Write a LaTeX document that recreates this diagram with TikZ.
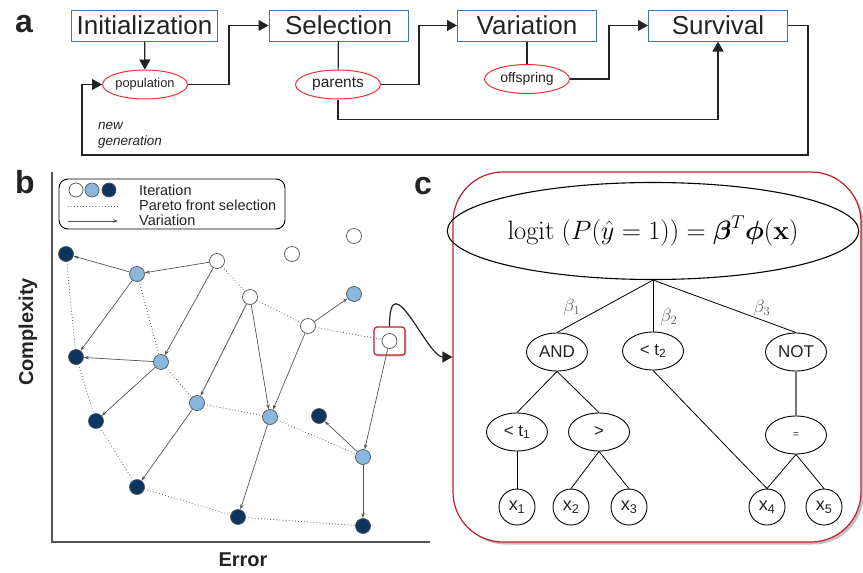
\RequirePackage{fix-cm}
\documentclass[tikz,border=0pt]{standalone}
\usepackage{amsmath}
\usepackage[no-math]{fontspec}
\setmainfont{Liberation Sans}
\usetikzlibrary{shapes.geometric,arrows.meta,shadows}

\definecolor{boxblue}{RGB}{60,118,178}
\definecolor{popred}{RGB}{232,52,52}
\definecolor{framered}{RGB}{192,32,44}
\definecolor{deepblue}{RGB}{12,54,96}
\definecolor{paleblue}{RGB}{138,183,221}
\definecolor{ink}{RGB}{35,35,35}
\definecolor{wire}{RGB}{85,85,85}

\begin{document}
\begin{tikzpicture}[x=1pt,y=-1pt,
  every node/.style={text=ink},
  stage/.style={draw=boxblue,line width=1pt,minimum width=139pt,minimum height=31pt,inner xsep=5pt,inner ysep=0pt,font=\fontsize{26}{26}\selectfont},
  pool/.style={ellipse,draw=popred,line width=1pt,minimum width=85pt,minimum height=29pt,inner sep=0pt},
  flow/.style={draw=ink,line width=1.2pt,-{Triangle[length=10pt,width=11pt]}},
  link/.style={draw=ink,line width=1.2pt},
  panel/.style={font=\bfseries\fontsize{32}{32}\selectfont},
  axis/.style={font=\bfseries\fontsize{20}{20}\selectfont},
  key/.style={anchor=west,inner sep=0pt,font=\fontsize{14.5}{15}\selectfont},
  ind/.style={circle,draw=wire,line width=0.7pt,minimum size=15pt,inner sep=0pt},
  it1/.style={ind,fill=white},
  it2/.style={ind,fill=paleblue},
  it3/.style={ind,fill=deepblue},
  vary/.style={draw=wire,line width=0.7pt,-{Stealth[length=5pt,width=3.5pt]}},
  front/.style={draw=wire,line width=1pt,line cap=round,dash pattern=on 0.1pt off 3pt},
  op/.style={ellipse,draw=black,line width=0.9pt,minimum width=61pt,minimum height=38pt,inner sep=0pt,font=\fontsize{17}{17}\selectfont},
  leaf/.style={circle,draw=black,line width=0.9pt,minimum size=36pt,inner sep=0pt,font=\fontsize{18}{18}\selectfont},
  branch/.style={draw=black,line width=0.8pt},
  wt/.style={font=\fontsize{18}{18}\selectfont,text=black!65}]
\useasboundingbox (0,0) rectangle (863,573);

\node[panel] (la) at (24,24) {a};
\node[stage] (init) at (144.5,25.5) {Initialization};
\node[stage] (sel) at (338.5,25.5) {Selection};
\node[stage] (var) at (527,25.5) {Variation};
\node[stage] (surv) at (718,25.5) {Survival};
\node[pool,font=\fontsize{12.8}{13}\selectfont] (pop) at (145,84.5) {population};
\node[pool,font=\fontsize{15.5}{16}\selectfont] (par) at (338,84.5) {parents};
\node[pool,font=\fontsize{14}{14}\selectfont] (off) at (527,79) {offspring};
\node[anchor=west,inner sep=0pt,align=left,font=\itshape\fontsize{13.5}{16}\selectfont] (newgen) at (98,135) {new\\generation};

\draw[flow] (init) -- (pop);
\draw[flow] (pop.east) -- ++(41,0) |- (sel);
\draw[link] (sel) -- (par);
\draw[flow] (par.east) -- ++(38,0) |- (var);
\draw[flow] (par.south) -- ++(0,20) -| (surv);
\draw[link] (var) -- (off);
\draw[flow] (off.east) -- ++(39,0) |- (surv);
\draw[flow] (surv.east) -- ++(20,0) |- (82,155) |- (pop);

\node[panel] (lb) at (25,182) {b};
\draw[draw=wire,line width=1.3pt] (52,172) -- (52,542) -- (430,542);
\node[axis,rotate=90] (ylab) at (28,332) {Complexity};
\node[axis] (xlab) at (243,560) {Error};

\node[draw=black,line width=0.9pt,rounded corners=9pt,minimum width=226pt,minimum height=50pt] (legend) at (172,204) {};
\node[it1,minimum size=14pt] (k1) at (76,190) {};
\node[it2,minimum size=14pt] (k2) at (92,190) {};
\node[it3,minimum size=14pt] (k3) at (109,190) {};
\draw[front] (68,206) -- (118,206);
\draw[vary] (68,221) -- (118,221);
\node[key] (t1) at (139,190) {Iteration};
\node[key] (t2) at (139,205) {Pareto front selection};
\node[key] (t3) at (139,220) {Variation};

\node[it3] (d1) at (66,254) {};
\node[it2] (l1) at (137,274) {};
\node[it1] (w1) at (217,261) {};
\node[it3] (d2) at (76,357) {};
\node[it2] (l2) at (161,362) {};
\node[it2] (l3) at (197,403) {};
\node[it3] (d3) at (96,421) {};
\node[it2] (l4) at (270,417) {};
\node[it3] (d4) at (319,416) {};
\node[it2] (l5) at (363,457) {};
\node[it3] (d5) at (137,487) {};
\node[it3] (d6) at (238,517) {};
\node[it3] (d7) at (363,526) {};
\node[it1] (w2) at (292,254) {};
\node[it1] (w3) at (354,236) {};
\node[it1] (w4) at (250,297) {};
\node[it2] (l6) at (354,294) {};
\node[it1] (w5) at (308,326) {};
\node[draw=framered,fill=white,line width=1.2pt,rounded corners=3pt,minimum width=31pt,minimum height=28pt,drop shadow={shadow xshift=1.5pt,shadow yshift=-1.5pt,fill=black!40}] (pick) at (389.5,341) {};
\node[it1] (w6) at (389.5,341) {};

\draw[front] (d1) -- (d2);
\draw[front] (d2) -- (d3);
\draw[front] (d3) -- (d5);
\draw[front] (d5) -- (d6);
\draw[front] (d6) -- (d7);
\draw[front] (l1) -- (l2);
\draw[front] (l2) -- (l3);
\draw[front] (l3) -- (l4);
\draw[front] (l4) -- (l5);
\draw[front] (w1) -- (w4);
\draw[front] (w4) -- (w5);
\draw[front] (w5) -- (w6);

\draw[vary] (w1) -- (l1);
\draw[vary] (l1) -- (d1);
\draw[vary] (l1) -- (d2);
\draw[vary] (w1) -- (l2);
\draw[vary] (l2) -- (d2);
\draw[vary] (l2) -- (d3);
\draw[vary] (w4) -- (l3);
\draw[vary] (w4) -- (l4);
\draw[vary] (l3) -- (d5);
\draw[vary] (w5) -- (l4);
\draw[vary] (w5) -- (l6);
\draw[vary] (l4) -- (d6);
\draw[vary] (w6) -- (l5);
\draw[vary] (l5) -- (d4);
\draw[vary] (l5) -- (d7);

\node[panel] (lc) at (423,186) {c};
\node[draw=framered,fill=white,line width=1.2pt,rounded corners=50pt,minimum width=408pt,minimum height=370pt,drop shadow={shadow xshift=2.5pt,shadow yshift=-2.5pt,fill=black!50}] (panelc) at (657,357) {};
\draw[flow] (pick.north) .. controls +(0,-65) and +(-25,0) .. (panelc.west);

\node[ellipse,draw=black,line width=1.1pt,minimum width=326pt,minimum height=97pt,inner sep=0pt,text=black] (root) at (653,231) {\fontsize{26.5}{27}\selectfont $\mathrm{logit}\;(P(\hat{y}=1))=\boldsymbol{\beta}^T\boldsymbol{\phi}(\mathbf{x})$};
\node[op] (and) at (557,352) {AND};
\node[op] (lt2) at (653,351) {< t\textsubscript{2}};
\node[op] (not) at (796,352) {NOT};
\node[op] (lt1) at (517,432) {< t\textsubscript{1}};
\node[op] (gt) at (599,432) {>};
\node[op,font=\fontsize{10}{10}\selectfont] (eq) at (796,435) {=};
\node[leaf] (x1) at (517,507) {x\textsubscript{1}};
\node[leaf] (x2) at (571,507) {x\textsubscript{2}};
\node[leaf] (x3) at (629,507) {x\textsubscript{3}};
\node[leaf] (x4) at (767,507) {x\textsubscript{4}};
\node[leaf] (x5) at (824,507) {x\textsubscript{5}};
\node[wt] (b1) at (572,307) {$\beta_1$};
\node[wt] (b2) at (669,317) {$\beta_2$};
\node[wt] (b3) at (762,308) {$\beta_3$};

\draw[branch] (root.south) -- (and.north);
\draw[branch] (root.south) -- (lt2.north);
\draw[branch] (root.south) -- (not.north);
\draw[branch] (and.south) -- (lt1.north);
\draw[branch] (and.south) -- (gt.north);
\draw[branch] (lt2.south) -- (x4.north);
\draw[branch,draw=black!55,line width=1.4pt] (not.south) -- (eq.north);
\draw[branch] (lt1.south) -- (x1.north);
\draw[branch] (gt.south) -- (x2.north);
\draw[branch] (gt.south) -- (x3.north);
\draw[branch] (eq.south) -- (x4.north);
\draw[branch] (eq.south) -- (x5.north);
\end{tikzpicture}
\end{document}
